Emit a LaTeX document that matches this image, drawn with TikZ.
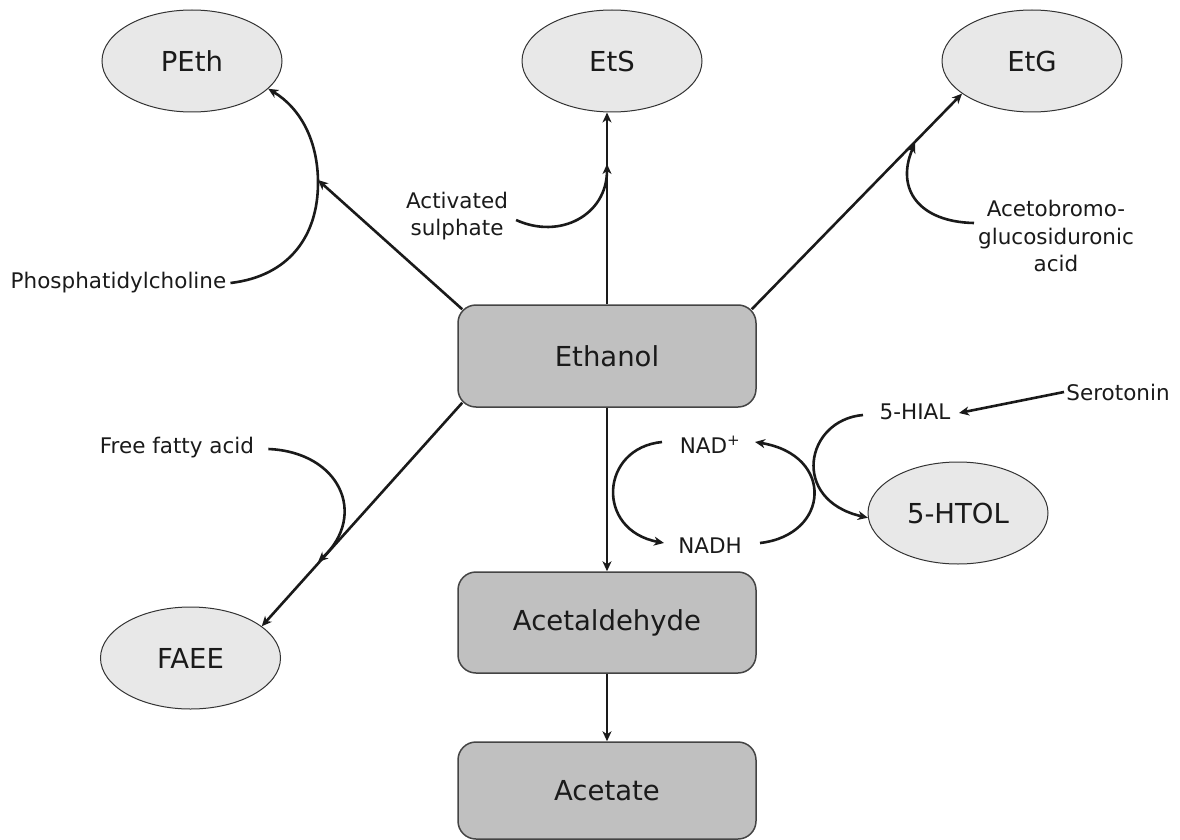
\documentclass[tikz,border=0pt]{standalone}
\usepackage{fontspec}
\setmainfont{DejaVu Sans}
\usetikzlibrary{arrows.meta,shapes.geometric,calc}
\definecolor{boxfill}{HTML}{C0C0C0}
\definecolor{boxline}{HTML}{444444}
\definecolor{ellfill}{HTML}{E8E8E8}
\definecolor{ellline}{HTML}{333333}
\definecolor{ink}{HTML}{1A1A1A}
\begin{document}
\begin{tikzpicture}[x=1pt,y=-1pt,
  big/.style={font=\fontsize{27.5}{33}\selectfont},
  small/.style={font=\fontsize{21.5}{27.5}\selectfont},
  proc/.style={draw=boxline, fill=boxfill, rounded corners=18pt, minimum width=298pt, minimum height=102pt, line width=1.5pt, big, text=ink},
  met/.style={ellipse, draw=ellline, fill=ellfill, minimum width=180pt, minimum height=102pt, inner sep=0pt, line width=1pt, big, text=ink},
  lbl/.style={small, text=ink, inner sep=2pt, align=center},
  arr/.style={-{Stealth[length=10pt,width=9pt,inset=3pt]}, line width=2.6pt, draw=ink}]
\useasboundingbox (0,0) rectangle (1180,840);

% process boxes
\node[proc] (eth) at (607,356) {Ethanol};
\node[proc, minimum height=101pt] (ald) at (607,622.5) {Acetaldehyde};
\node[proc, minimum height=97pt] (ace) at (607,790.5) {Acetate};

% metabolites
\node[met] (peth) at (192,61) {PEth};
\node[met] (ets) at (612,61) {EtS};
\node[met] (etg) at (1032,61) {EtG};
\node[met] (faee) at (190.5,658) {FAEE};
\node[met] (htol) at (958,513) {5-HTOL};

% labels
\node[lbl] (pc) at (118.5,283) {Phosphatidylcholine};
\node[lbl] (as) at (457,216) {Activated\\sulphate};
\node[lbl] (ab) at (1056,236) {Acetobromo-\\glucosiduronic\\acid};
\node[lbl] (ffa) at (177,448) {Free fatty acid};
\node[lbl] (sero) at (1118,392) {Serotonin};
\node[lbl] (hial) at (915,412) {5-HIAL};
\node[lbl] (nad) at (710,445) {NAD\textsuperscript{+}};
\node[lbl] (nadh) at (710,546) {NADH};

% junctions on the main lines
\coordinate (jpc) at (318,180);
\coordinate (jas) at (607,164);
\coordinate (jab) at (915,143);
\coordinate (jffa) at (318,562);

% PEth
\draw[arr] ($(eth.north west)+(5,5)$) -- (jpc);
\draw[arr] ($(pc.east)+(2,0)$) .. controls (290,276) and (318,235) .. (318,183)
  .. controls (318,140) and (300,108) .. (peth.-20);

% EtS
\draw[arr] (eth.north) -- (eth.north |- ets.south);
\draw[arr] ($(as.east)+(6,4)$) .. controls (560,240) and (607,215) .. (jas);

% EtG
\draw[arr] ($(eth.north east)+(-5,5)$) -- (etg.205.5);
\draw[arr] ($(ab.west)+(-2,-13)$) .. controls (920,222) and (895,190) .. (jab);

% FAEE
\draw[arr] ($(eth.south west)+(5,-5)$) -- (faee.24);
\draw[arr] ($(ffa.east)+(12,1)$) .. controls (340,452) and (368,515) .. (jffa);

% main chain
\draw[arr] (eth.south) -- (ald.north);
\draw[arr] (ald.south) -- (ace.north);

% NAD+/NADH cycle
\draw[arr] ($(nad.center)+(-48,-3)$) .. controls (600,448) and (595,530) .. ($(nadh.center)+(-46,-3)$);
\draw[arr] ($(nadh.center)+(50,-3)$) .. controls (830,535) and (835,455) .. ($(nad.center)+(45,-3)$);

% serotonin branch
\draw[arr] ($(sero.center)+(-54,0)$) -- ($(hial.center)+(44,1)$);
\draw[arr] ($(hial.center)+(-52,3)$) .. controls (805,420) and (790,500) .. (htol.183);
\end{tikzpicture}
\end{document}
